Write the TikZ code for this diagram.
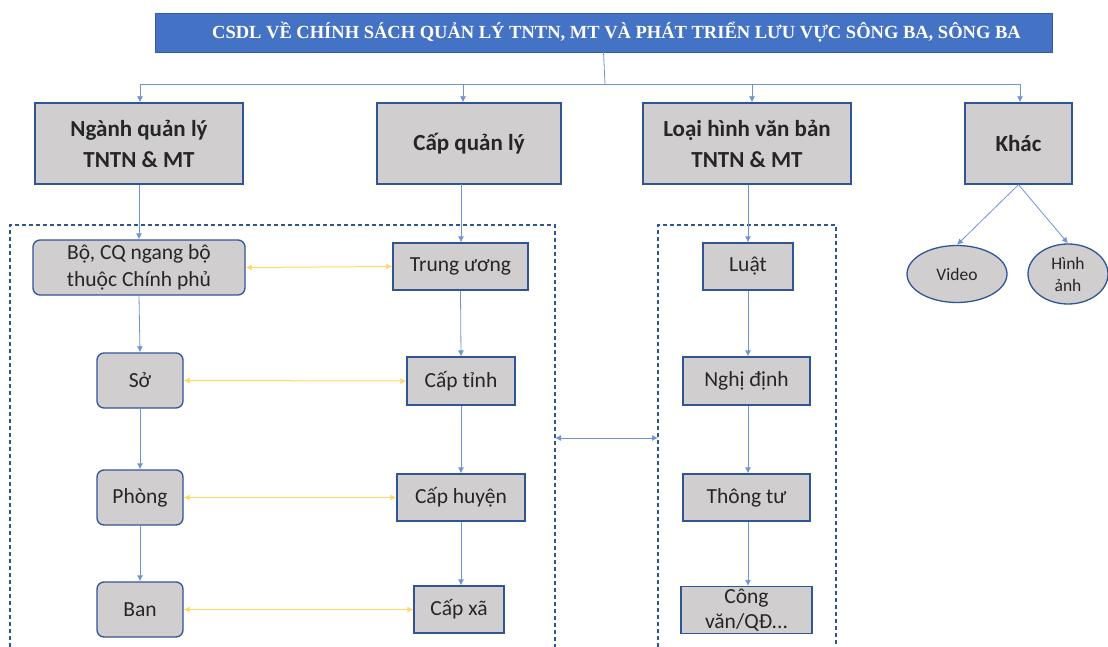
\documentclass[tikz,border=0pt]{standalone}
\usepackage{fontspec}
\setmainfont{Carlito}
\newfontfamily\titlefont{Liberation Serif}
\usetikzlibrary{arrows.meta,shapes.geometric}
\definecolor{bblue}{HTML}{4472C4}
\definecolor{lblue}{HTML}{6F93D6}
\definecolor{dblue}{HTML}{2F5597}
\definecolor{gfill}{HTML}{D0CECE}
\definecolor{yarrow}{HTML}{FFD966}
\begin{document}
\begin{tikzpicture}[x=1pt,y=-1pt,
  box/.style={draw=dblue, line width=1.3pt, fill=gfill, inner sep=0pt, align=center,
              font=\fontsize{21.5}{27}\selectfont, text=black!85},
  head/.style={box, font=\fontsize{23}{31}\bfseries\selectfont},
  rbox/.style={box, rounded corners=7pt},
  oval/.style={ellipse, draw=dblue, line width=1.3pt, fill=gfill, inner sep=0pt, align=center,
               font=\fontsize{17.5}{22}\selectfont, text=black!85},
  conn/.style={draw=lblue, line width=0.8pt, -{Latex[length=6pt,width=6pt]}},
  link/.style={draw=yarrow, line width=1pt, {Latex[length=6pt,width=6pt]}-{Latex[length=6pt,width=6pt]}},
  grp/.style={draw=dblue, dashed, dash pattern=on 4pt off 3pt, line width=1.3pt}]

\useasboundingbox (0,0) rectangle (1108,647);

% title
\node[draw=bblue!80!black, fill=bblue, minimum width=897, minimum height=39, inner sep=0pt,
      text=white, font=\titlefont\fontsize{18.5}{21}\bfseries\selectfont] (title) at (603.5,32.5)
      {\hspace*{26pt}CSDL VỀ CHÍNH SÁCH QUẢN LÝ TNTN, MT VÀ PHÁT TRIỂN LƯU VỰC SÔNG BA, SÔNG BA};

% headers
\node[head, minimum width=208, minimum height=81] (ng) at (139,143.5) {Ngành quản lý\\TNTN \& MT};
\node[head, minimum width=184, minimum height=81] (cq) at (469,143.5) {Cấp quản lý};
\node[head, minimum width=208, minimum height=81] (lh) at (747,143.5) {Loại hình văn bản\\TNTN \& MT};
\node[head, minimum width=107, minimum height=81] (kh) at (1018.5,143.5) {Khác};

% bus
\coordinate (bus) at (605,84);
\coordinate (busL) at (140,84);
\coordinate (busR) at (1020,84);
\draw[draw=lblue, line width=0.8pt] (title.south) -- (bus);
\draw[draw=lblue, line width=0.8pt] (busL) -- (busR);
\draw[conn] (busL) -- (busL |- ng.north);
\draw[conn] (463,84) coordinate (busC) -- (busC |- cq.north);
\draw[conn] (752,84) coordinate (busD) -- (busD |- lh.north);
\draw[conn] (busR) -- (busR |- kh.north);

% dashed groups
\draw[grp] (10,647) -- (10,225) -- (555,225) -- (555,647);
\draw[grp] (658,647) -- (658,225) -- (836,225) -- (836,647);
\coordinate (g1e) at (555,438);
\coordinate (g2w) at (658,438);
\draw[draw=lblue, line width=0.8pt, {Latex[length=6pt,width=6pt]}-{Latex[length=6pt,width=6pt]}] (g1e) -- (g2w);

% left column
\node[rbox, minimum width=212, minimum height=55] (bo) at (139,267.5) {Bộ, CQ ngang bộ\\thuộc Chính phủ};
\node[rbox, minimum width=86, minimum height=55] (so) at (140,380.5) {Sở};
\node[rbox, minimum width=86, minimum height=55] (ph) at (140,497.5) {Phòng};
\node[rbox, minimum width=86, minimum height=55] (ban) at (140,609.5) {Ban};

% middle column
\node[box, minimum width=135, minimum height=47] (tw) at (460.5,266.5) {Trung ương};
\node[box, minimum width=108, minimum height=48] (ct) at (461,381) {Cấp tỉnh};
\node[box, minimum width=128, minimum height=47] (chu) at (461,497.5) {Cấp huyện};
\node[box, minimum width=90, minimum height=47] (cx) at (459,609.5) {Cấp xã};

% right column
\node[box, minimum width=90, minimum height=47] (lu) at (748,266.5) {Luật};
\node[box, minimum width=127, minimum height=48] (nd) at (746.5,381) {Nghị định};
\node[box, minimum width=127, minimum height=47] (tt) at (746.5,497.5) {Thông tư};
\node[box, minimum width=131, minimum height=47, font=\fontsize{21.5}{25}\selectfont] (cv) at (746.5,610) {Công\\văn/QĐ...};

% ovals
\node[oval, minimum width=100, minimum height=57] (vid) at (957,274) {Video};
\node[oval, minimum width=80, minimum height=60] (ha) at (1068,274) {Hình\\ảnh};

% vertical connectors
\draw[conn] (ng.south) -- (ng.south |- bo.north);
\draw[conn] (bo.south) -- (so.north);
\draw[conn] (so.south) -- (ph.north);
\draw[conn] (ph.south) -- (ban.north);

\draw[conn] (461,184) coordinate (cqs) -- (cqs |- tw.north);
\draw[conn] (tw.south) -- (ct.north);
\draw[conn] (ct.south) -- (chu.north);
\draw[conn] (chu.south -| 461,0) coordinate (chs) -- (chs |- cx.north);

\draw[conn] (lh.south -| 748,0) coordinate (lhs) -- (lhs |- lu.north);
\draw[conn] (lu.south) -- (lu.south |- nd.north);
\draw[conn] (nd.south -| lu.south) coordinate (nds) -- (nds |- tt.north);
\draw[conn] (tt.south -| lu.south) coordinate (tts) -- (tts |- cv.north);

\draw[conn] (kh.south) -- (vid.north);
\draw[conn] (kh.south) -- (ha.north);

% yellow links
\draw[link] (bo.east) -- (tw.west);
\draw[link] (so.east) -- (ct.west);
\draw[link] (ph.east) -- (chu.west);
\draw[link] (ban.east) -- (cx.west);
\end{tikzpicture}
\end{document}
